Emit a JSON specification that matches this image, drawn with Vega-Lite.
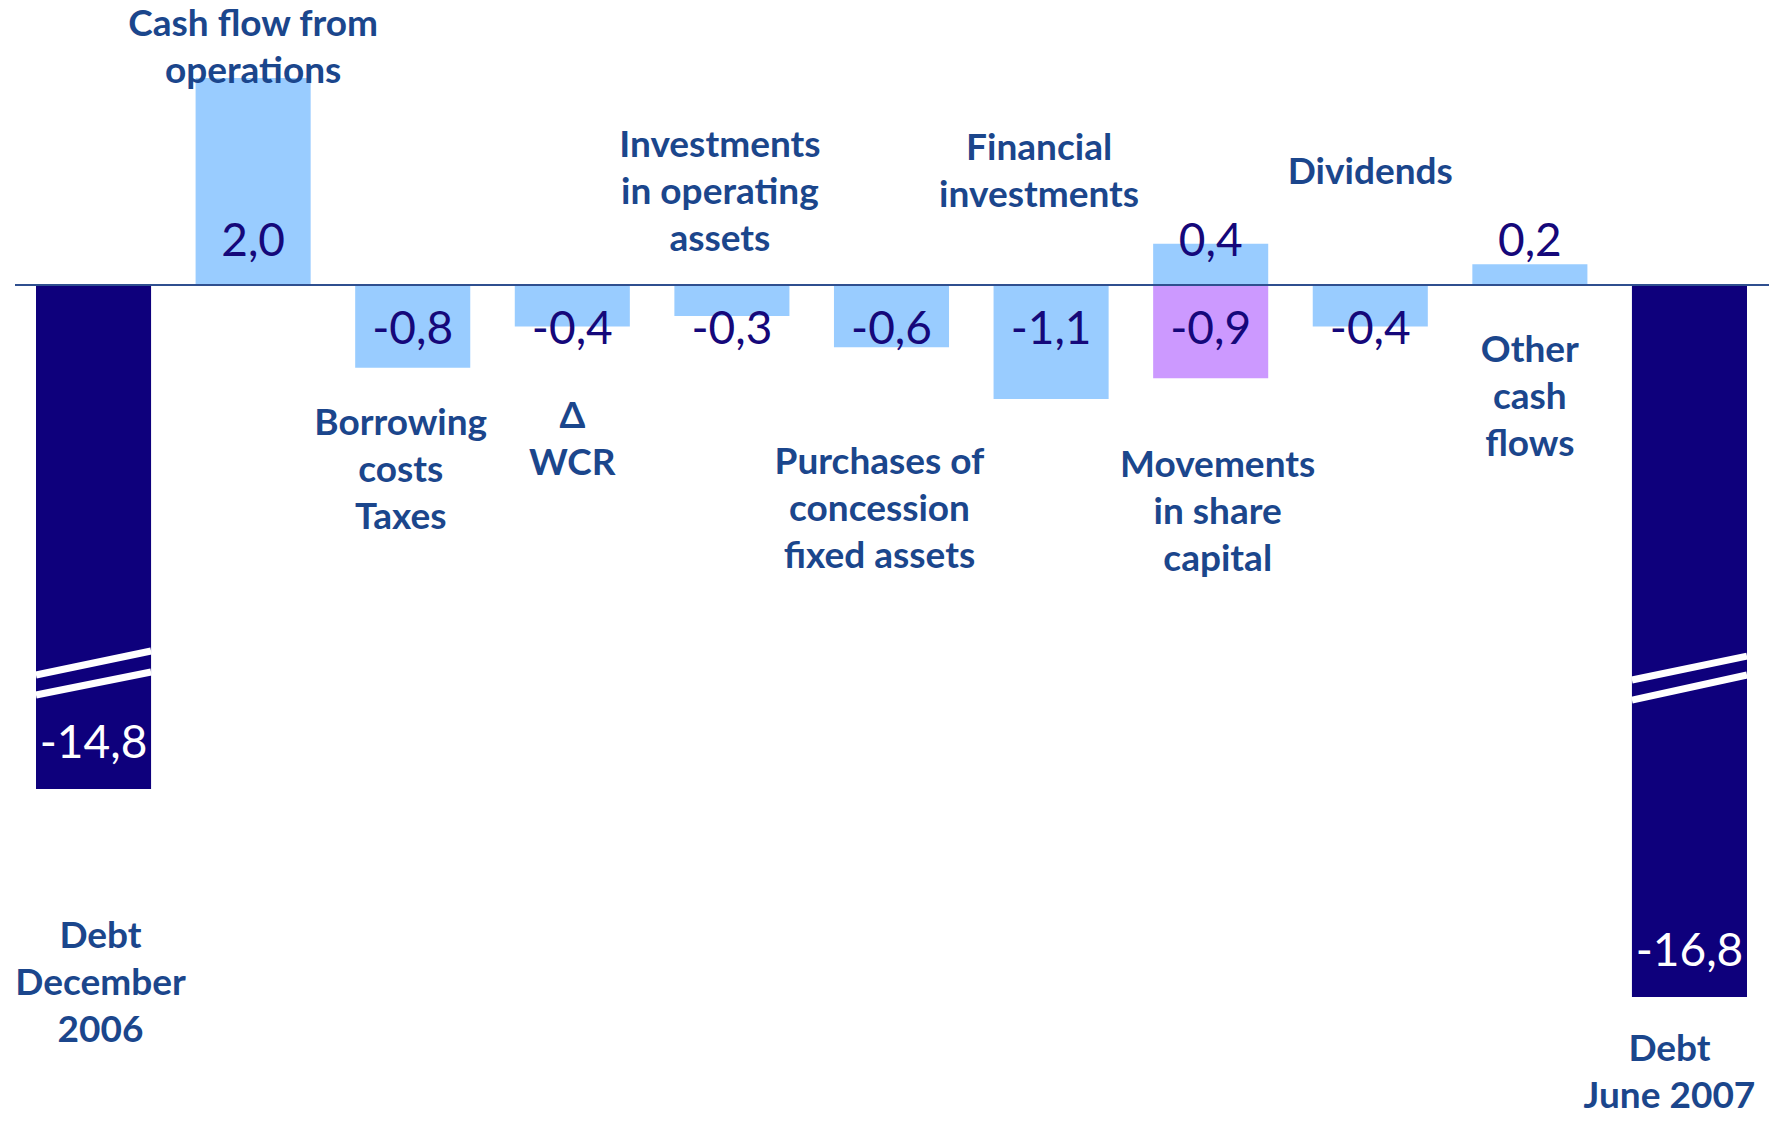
{
  "$schema": "https://vega.github.io/schema/vega-lite/v6.json",
  "width": 1754,
  "height": 1121,
  "autosize": {"type": "none"},
  "padding": {"left": 15, "right": 0, "top": 0, "bottom": 0},
  "background": "white",
  "config": {
    "view": {"stroke": null},
    "locale": {"number": {"decimal": ",", "thousands": ".", "grouping": [3], "currency": ["", ""], "minus": "-"}}
  },
  "datasets": {
    "bars": [
      {"item": "Debt December 2006", "value": -14.8, "plotted": -4.87, "kind": "debt"},
      {"item": "Cash flow from operations", "value": 2.0, "plotted": 2.0, "kind": "flow"},
      {"item": "Borrowing costs Taxes", "value": -0.8, "plotted": -0.8, "kind": "flow"},
      {"item": "Δ WCR", "value": -0.4, "plotted": -0.4, "kind": "flow"},
      {"item": "Investments in operating assets", "value": -0.3, "plotted": -0.3, "kind": "flow"},
      {"item": "Purchases of concession fixed assets", "value": -0.6, "plotted": -0.6, "kind": "flow"},
      {"item": "Financial investments", "value": -1.1, "plotted": -1.1, "kind": "flow"},
      {"item": "Movements in share capital", "value": 0.4, "plotted": 0.4, "kind": "flow"},
      {"item": "Movements in share capital", "value": -0.9, "plotted": -0.9, "kind": "share"},
      {"item": "Dividends", "value": -0.4, "plotted": -0.4, "kind": "flow"},
      {"item": "Other cash flows", "value": 0.2, "plotted": 0.2, "kind": "flow"},
      {"item": "Debt June 2007", "value": -16.8, "plotted": -6.88, "kind": "debt"}
    ],
    "breaks": [
      {"item": "Debt December 2006", "y_left": -3.768, "y_right": -3.536},
      {"item": "Debt December 2006", "y_left": -3.961, "y_right": -3.739},
      {"item": "Debt June 2007", "y_left": -3.816, "y_right": -3.585},
      {"item": "Debt June 2007", "y_left": -4.010, "y_right": -3.768}
    ],
    "notes": [
      {"item": "Debt December 2006", "lines": ["Debt", "December", "2006"], "at": -6.300},
      {"item": "Cash flow from operations", "lines": ["Cash flow from", "operations"], "at": 2.512},
      {"item": "Borrowing costs Taxes", "lines": ["Borrowing", "costs", "Taxes"], "at": -1.343},
      {"item": "Δ WCR", "lines": ["Δ", "WCR"], "at": -1.275},
      {"item": "Investments in operating assets", "lines": ["Investments", "in operating", "assets"], "at": 1.348},
      {"item": "Purchases of concession fixed assets", "lines": ["Purchases of", "concession", "fixed assets"], "at": -1.715},
      {"item": "Financial investments", "lines": ["Financial", "investments"], "at": 1.314},
      {"item": "Movements in share capital", "lines": ["Movements", "in share", "capital"], "at": -1.749},
      {"item": "Dividends", "lines": ["Dividends"], "at": 1.086},
      {"item": "Other cash flows", "lines": ["Other", "cash", "flows"], "at": -0.638},
      {"item": "Debt June 2007", "lines": ["Debt", "June 2007"], "at": -7.39}
    ]
  },
  "layer": [
    {
      "data": {"name": "bars"},
      "mark": {"type": "bar"},
      "encoding": {
        "x": {
          "field": "item", "type": "nominal", "axis": null,
          "sort": ["Debt December 2006", "Cash flow from operations", "Borrowing costs Taxes", "Δ WCR", "Investments in operating assets", "Purchases of concession fixed assets", "Financial investments", "Movements in share capital", "Dividends", "Other cash flows", "Debt June 2007"],
          "scale": {"type": "band", "range": [21, 1732], "paddingInner": 0.279, "paddingOuter": 0}
        },
        "y": {"field": "plotted", "type": "quantitative", "stack": null, "axis": null,
              "scale": {"domain": [-8.077, 2.754], "nice": false, "zero": false}},
        "color": {"field": "kind", "type": "nominal", "legend": null,
                  "scale": {"domain": ["debt", "flow", "share"], "range": ["#0e007c", "#99ccff", "#cc99ff"]}}
      }
    },
    {
      "data": {"values": [{"level": 0}]},
      "mark": {"type": "rule", "color": "#2f4f8f", "strokeWidth": 2},
      "encoding": {"y": {"field": "level", "type": "quantitative"}}
    },
    {
      "data": {"name": "breaks"},
      "mark": {"type": "rule", "color": "white", "strokeWidth": 7, "strokeCap": "butt"},
      "encoding": {
        "x": {"field": "item", "type": "nominal", "bandPosition": 0,
              "sort": ["Debt December 2006", "Cash flow from operations", "Borrowing costs Taxes", "Δ WCR", "Investments in operating assets", "Purchases of concession fixed assets", "Financial investments", "Movements in share capital", "Dividends", "Other cash flows", "Debt June 2007"]},
        "x2": {"field": "item", "bandPosition": 1},
        "y": {"field": "y_left", "type": "quantitative"},
        "y2": {"field": "y_right"}
      }
    },
    {
      "data": {"name": "bars"},
      "transform": [{"filter": "datum.kind != 'debt' && datum.value > 0"}],
      "mark": {"type": "text", "font": "Lato", "fontSize": 46, "color": "#15087a", "baseline": "middle", "dy": -43},
      "encoding": {
        "x": {"field": "item", "type": "nominal",
              "sort": ["Debt December 2006", "Cash flow from operations", "Borrowing costs Taxes", "Δ WCR", "Investments in operating assets", "Purchases of concession fixed assets", "Financial investments", "Movements in share capital", "Dividends", "Other cash flows", "Debt June 2007"]},
        "y": {"datum": 0, "type": "quantitative"},
        "text": {"field": "value", "type": "quantitative", "format": ".1f"}
      }
    },
    {
      "data": {"name": "bars"},
      "transform": [{"filter": "datum.kind != 'debt' && datum.value < 0"}],
      "mark": {"type": "text", "font": "Lato", "fontSize": 46, "color": "#15087a", "baseline": "middle", "dy": 45},
      "encoding": {
        "x": {"field": "item", "type": "nominal",
              "sort": ["Debt December 2006", "Cash flow from operations", "Borrowing costs Taxes", "Δ WCR", "Investments in operating assets", "Purchases of concession fixed assets", "Financial investments", "Movements in share capital", "Dividends", "Other cash flows", "Debt June 2007"]},
        "y": {"datum": 0, "type": "quantitative"},
        "text": {"field": "value", "type": "quantitative", "format": ".1f"}
      }
    },
    {
      "data": {"name": "bars"},
      "transform": [{"filter": "datum.kind == 'debt'"}],
      "mark": {"type": "text", "font": "Lato", "fontSize": 46, "color": "white", "baseline": "middle", "dy": -45},
      "encoding": {
        "x": {"field": "item", "type": "nominal",
              "sort": ["Debt December 2006", "Cash flow from operations", "Borrowing costs Taxes", "Δ WCR", "Investments in operating assets", "Purchases of concession fixed assets", "Financial investments", "Movements in share capital", "Dividends", "Other cash flows", "Debt June 2007"]},
        "y": {"field": "plotted", "type": "quantitative"},
        "text": {"field": "value", "type": "quantitative", "format": ".1f"}
      }
    },
    {
      "data": {"name": "notes"},
      "transform": [{"filter": {"field": "item", "oneOf": ["Cash flow from operations", "Δ WCR", "Dividends", "Other cash flows"]}}],
      "mark": {"type": "text", "font": "Lato", "fontWeight": "bold", "fontSize": 37, "lineHeight": 47, "color": "#1b468c", "baseline": "middle", "align": "center"},
      "encoding": {
        "x": {"field": "item", "type": "nominal",
              "sort": ["Debt December 2006", "Cash flow from operations", "Borrowing costs Taxes", "Δ WCR", "Investments in operating assets", "Purchases of concession fixed assets", "Financial investments", "Movements in share capital", "Dividends", "Other cash flows", "Debt June 2007"]},
        "y": {"field": "at", "type": "quantitative"},
        "text": {"field": "lines"}
      }
    },
    {
      "data": {"name": "notes"},
      "transform": [{"filter": {"field": "item", "oneOf": ["Borrowing costs Taxes", "Investments in operating assets", "Purchases of concession fixed assets", "Financial investments"]}}],
      "mark": {"type": "text", "font": "Lato", "fontWeight": "bold", "fontSize": 37, "lineHeight": 47, "color": "#1b468c", "baseline": "middle", "align": "center", "dx": -12},
      "encoding": {
        "x": {"field": "item", "type": "nominal",
              "sort": ["Debt December 2006", "Cash flow from operations", "Borrowing costs Taxes", "Δ WCR", "Investments in operating assets", "Purchases of concession fixed assets", "Financial investments", "Movements in share capital", "Dividends", "Other cash flows", "Debt June 2007"]},
        "y": {"field": "at", "type": "quantitative"},
        "text": {"field": "lines"}
      }
    },
    {
      "data": {"name": "notes"},
      "transform": [{"filter": {"field": "item", "oneOf": ["Debt June 2007"]}}],
      "mark": {"type": "text", "font": "Lato", "fontWeight": "bold", "fontSize": 37, "lineHeight": 47, "color": "#1b468c", "baseline": "middle", "align": "center", "dx": -20},
      "encoding": {
        "x": {"field": "item", "type": "nominal",
              "sort": ["Debt December 2006", "Cash flow from operations", "Borrowing costs Taxes", "Δ WCR", "Investments in operating assets", "Purchases of concession fixed assets", "Financial investments", "Movements in share capital", "Dividends", "Other cash flows", "Debt June 2007"]},
        "y": {"field": "at", "type": "quantitative"},
        "text": {"field": "lines"}
      }
    },
    {
      "data": {"name": "notes"},
      "transform": [{"filter": {"field": "item", "oneOf": ["Debt December 2006", "Movements in share capital"]}}],
      "mark": {"type": "text", "font": "Lato", "fontWeight": "bold", "fontSize": 37, "lineHeight": 47, "color": "#1b468c", "baseline": "middle", "align": "center", "dx": 7},
      "encoding": {
        "x": {"field": "item", "type": "nominal",
              "sort": ["Debt December 2006", "Cash flow from operations", "Borrowing costs Taxes", "Δ WCR", "Investments in operating assets", "Purchases of concession fixed assets", "Financial investments", "Movements in share capital", "Dividends", "Other cash flows", "Debt June 2007"]},
        "y": {"field": "at", "type": "quantitative"},
        "text": {"field": "lines"}
      }
    }
  ]
}
